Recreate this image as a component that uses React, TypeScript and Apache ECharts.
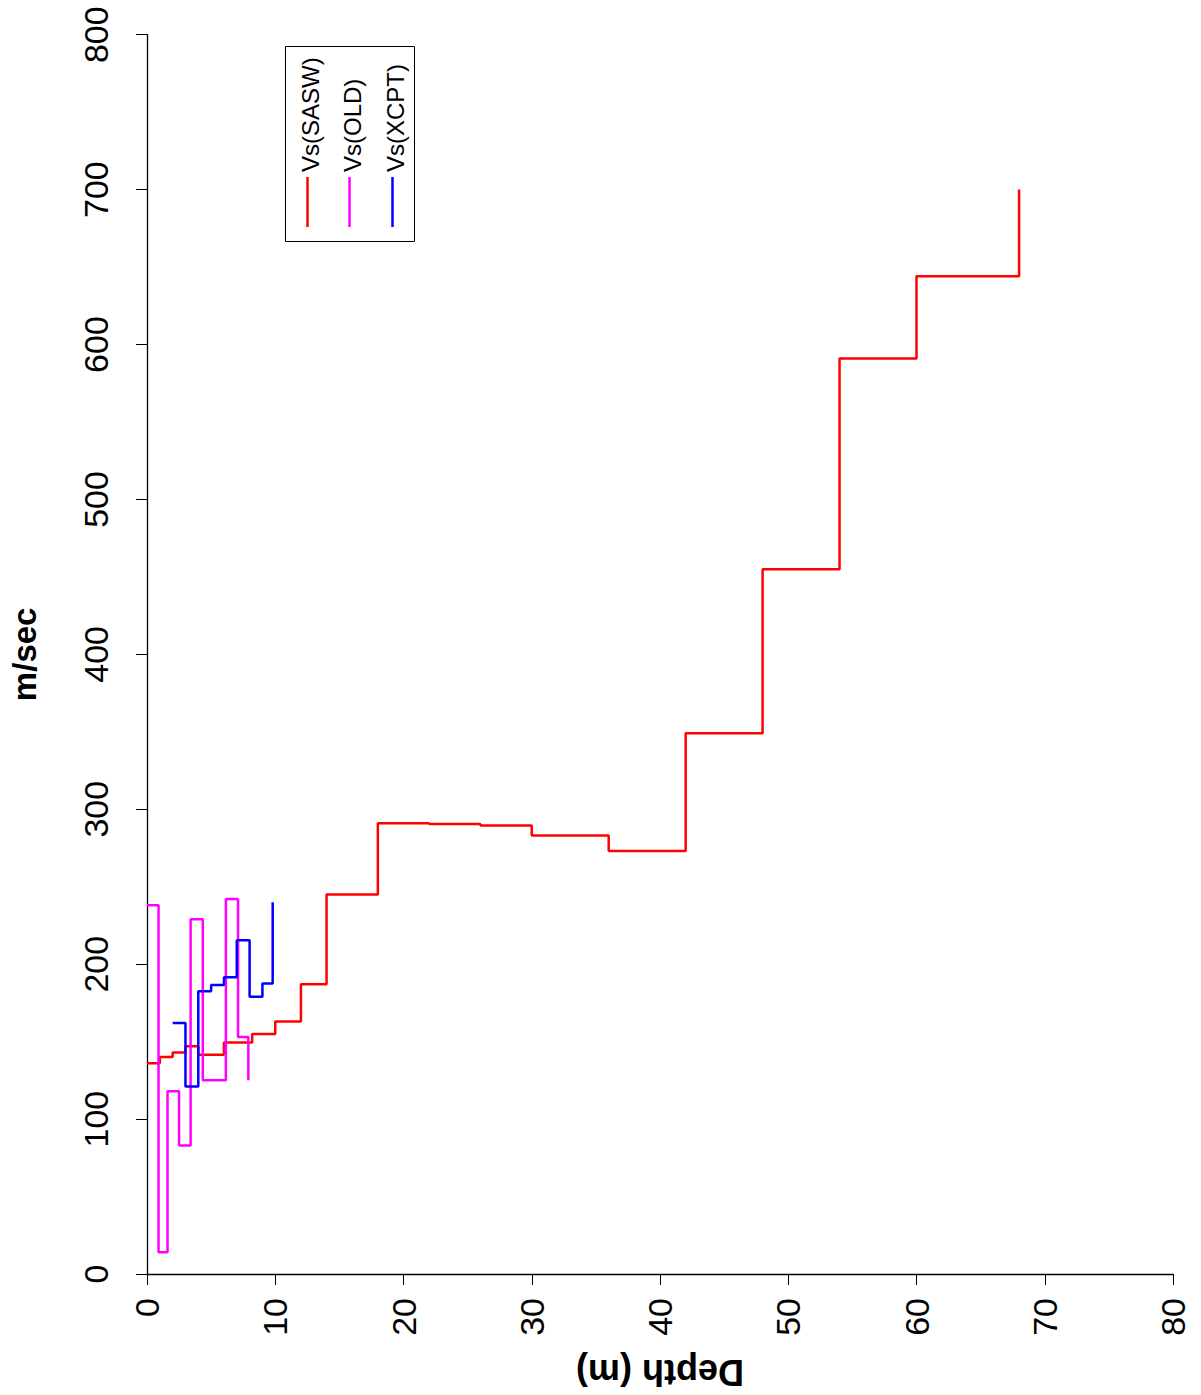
import React, { useEffect, useRef } from "react";
import * as echarts from "echarts";

// Depth ticks (m) and velocity ticks (m/sec)
const depthTicks = [0, 10, 20, 30, 40, 50, 60, 70, 80];
const velTicks = [0, 100, 200, 300, 400, 500, 600, 700, 800];

// Vs(SASW): layer top depth (m) and shear-wave velocity (m/sec)
const sasDepth = [0, 1, 2, 3, 4, 6, 8.2, 10, 12, 14, 18, 22, 26, 30, 36, 42, 48, 54, 60, 68];
const sasVs = [136, 140, 143, 147, 141.5, 149.5, 155, 163, 187, 245, 291, 290.5, 289.5, 283, 273, 349, 455, 591, 644, 700];

// Vs(OLD)
const oldDepth = [0, 0.9, 1.6, 2.5, 3.4, 4.35, 6.15, 7.1, 7.9];
const oldVs = [238, 14, 118, 83, 229, 125, 242, 153, 125];

// Vs(XCPT)
const xcptDepth = [2, 3, 4, 5, 6, 7, 8, 9, 9.8];
const xcptVs = [162, 121, 182.5, 186.5, 191.5, 215.5, 179, 187.5, 240];

const seriesNames = ["Vs(SASW)", "Vs(OLD)", "Vs(XCPT)"];
const seriesColors = ["#ff0000", "#ff00ff", "#0000ff"];

const FONT = "'Liberation Sans', Arial, Helvetica, sans-serif";

function pairs(xs: number[], ys: number[]) {
  return xs.map((x, i) => [x, ys[i]]);
}

export default function App() {
  const ref = useRef<HTMLDivElement>(null);

  useEffect(() => {
    document.body.style.margin = "0";
    const chart = echarts.init(ref.current!, null, { renderer: "svg" });
    const datasets = [pairs(sasDepth, sasVs), pairs(oldDepth, oldVs), pairs(xcptDepth, xcptVs)];

    const legendX = [307.5, 349.5, 392.5];
    const legendTextX = [310, 352, 395];
    const legendGraphics: any[] = [
      {
        type: "rect",
        shape: { x: 285.5, y: 46.5, width: 129, height: 195 },
        style: { fill: "#ffffff", stroke: "#000000", lineWidth: 1 },
        z: 10,
      },
    ];
    seriesNames.forEach((name, i) => {
      legendGraphics.push({
        type: "line",
        shape: { x1: legendX[i], y1: 177, x2: legendX[i], y2: 227 },
        style: { stroke: seriesColors[i], lineWidth: 2.5 },
        z: 11,
      });
      legendGraphics.push({
        type: "text",
        x: legendTextX[i],
        y: 172,
        rotation: Math.PI / 2,
        style: {
          text: name,
          fill: "#000000",
          font: `24px ${FONT}`,
          align: "left",
          verticalAlign: "middle",
        },
        z: 11,
      });
    });

    chart.setOption({
      animation: false,
      backgroundColor: "#ffffff",
      grid: { left: 142.5, right: 28, top: 34.7, bottom: 120.7, containLabel: false },
      xAxis: {
        type: "value",
        min: depthTicks[0],
        max: depthTicks[depthTicks.length - 1],
        interval: 10,
        name: "Depth (m)",
        nameLocation: "middle",
        nameRotate: 180,
        nameGap: 80,
        nameTextStyle: { fontFamily: FONT, fontSize: 36, fontWeight: "bold", color: "#000" },
        axisLine: { show: true, onZero: false, lineStyle: { color: "#000", width: 1.3 } },
        axisTick: { show: true, inside: false, length: 11, lineStyle: { color: "#000", width: 1 } },
        axisLabel: {
          rotate: 90,
          margin: 24,
          fontFamily: FONT,
          fontSize: 34,
          color: "#000",
          formatter: (v: number) => String(v),
        },
        splitLine: { show: false },
      },
      yAxis: {
        type: "value",
        min: velTicks[0],
        max: velTicks[velTicks.length - 1],
        interval: 100,
        name: "m/sec",
        nameLocation: "middle",
        nameRotate: 90,
        nameGap: 106,
        nameTextStyle: { fontFamily: FONT, fontSize: 33, fontWeight: "bold", color: "#000" },
        axisLine: { show: true, onZero: false, lineStyle: { color: "#000", width: 1.3 } },
        axisTick: { show: true, inside: false, length: 11, lineStyle: { color: "#000", width: 1 } },
        axisLabel: {
          rotate: 90,
          margin: 34,
          fontFamily: FONT,
          fontSize: 34,
          color: "#000",
          formatter: (v: number) => String(v),
        },
        splitLine: { show: false },
      },
      series: datasets.map((d, i) => ({
        name: seriesNames[i],
        type: "line",
        step: "end",
        data: d,
        showSymbol: false,
        symbol: "none",
        lineStyle: { color: seriesColors[i], width: 2.5 },
        itemStyle: { color: seriesColors[i] },
        z: 2 + i,
      })),
      graphic: legendGraphics,
    });

    return () => chart.dispose();
  }, []);

  return <div ref={ref} style={{ width: 1201, height: 1395 }} />;
}
